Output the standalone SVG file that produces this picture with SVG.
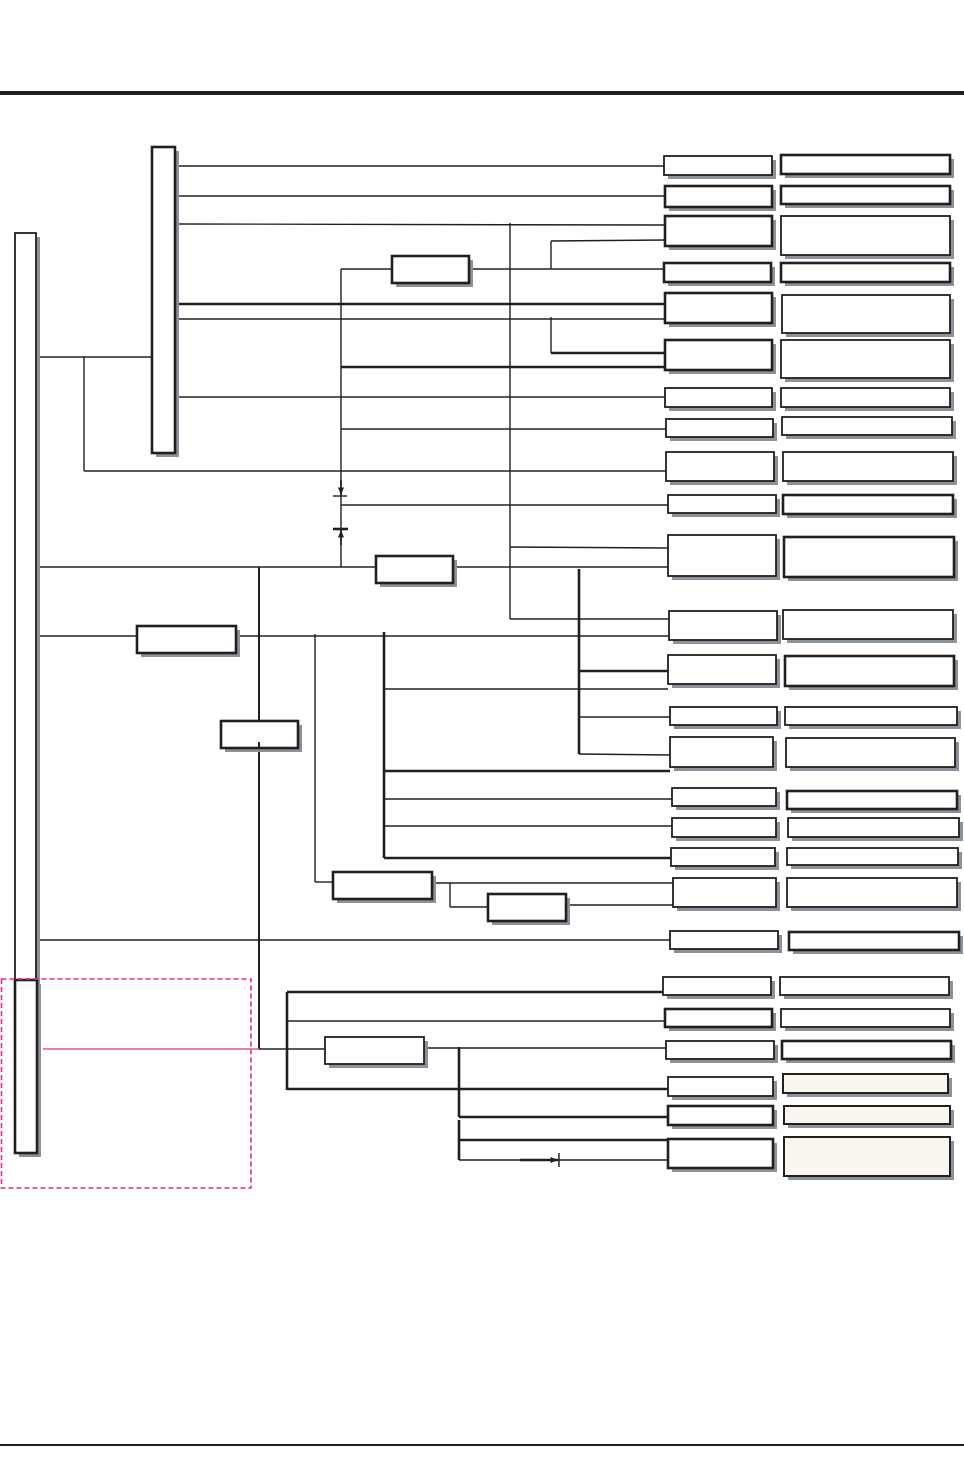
<svg xmlns="http://www.w3.org/2000/svg" width="964" height="1483" viewBox="0 0 964 1483">
<defs>
<style>
.sh{fill:#8b9299;stroke:none}
.bx{fill:#fff;stroke:#231f20;stroke-width:1.8}
.bk{fill:#fff;stroke:#231f20;stroke-width:2.6}
.cr{fill:#f9f6ef;stroke:#231f20;stroke-width:2}
.ln{stroke:#231f20;stroke-width:1.4;fill:none}
.md{stroke:#231f20;stroke-width:2;fill:none}
.tk{stroke:#231f20;stroke-width:2.6;fill:none}
</style>
<marker id="ah" viewBox="0 0 10 8" refX="10" refY="4" markerWidth="8" markerHeight="6" markerUnits="userSpaceOnUse" orient="auto"><path d="M0,0 L10,4 L0,8 Z" fill="#231f20"/></marker>
</defs>
<rect width="964" height="1483" fill="#fff"/>
<line x1="0" y1="93" x2="964" y2="93" stroke="#231f20" stroke-width="4"/>
<line x1="0" y1="1445" x2="964" y2="1445" stroke="#231f20" stroke-width="2"/>

<g id="connectors">
<line class="ln" x1="36" y1="357" x2="152" y2="357"/>
<line class="ln" x1="84" y1="357" x2="84" y2="471"/>
<line class="ln" x1="84" y1="471" x2="666" y2="471"/>
<line class="ln" x1="175" y1="166" x2="664" y2="166"/>
<line class="ln" x1="175" y1="196" x2="665" y2="196"/>
<line class="ln" x1="175" y1="224" x2="665" y2="225"/>
<line class="tk" x1="175" y1="304" x2="665" y2="304"/>
<line class="ln" x1="175" y1="319" x2="665" y2="319"/>
<line class="ln" x1="175" y1="397" x2="665" y2="397"/>
<line class="ln" x1="510" y1="223" x2="510" y2="619"/>
<line class="ln" x1="510" y1="547" x2="668" y2="548"/>
<line class="ln" x1="510" y1="619" x2="669" y2="619"/>
<line class="ln" x1="551" y1="241" x2="551" y2="269"/>
<line class="ln" x1="551" y1="241" x2="665" y2="240"/>
<line class="ln" x1="551" y1="317" x2="551" y2="353"/>
<line class="tk" x1="551" y1="353" x2="665" y2="353"/>
<line class="ln" x1="341" y1="269" x2="392" y2="269"/>
<line class="ln" x1="469" y1="269" x2="664" y2="269"/>
<line class="ln" x1="341" y1="269" x2="341" y2="567"/>
<line class="tk" x1="341" y1="367" x2="665" y2="367"/>
<line class="ln" x1="341" y1="429" x2="666" y2="429"/>
<line class="ln" x1="341" y1="505" x2="668" y2="505"/>
<line class="ln" x1="341" y1="480" x2="341" y2="495" marker-end="url(#ah)"/>
<line class="ln" x1="333" y1="496" x2="347" y2="496"/>
<line class="ln" x1="341" y1="545" x2="341" y2="530" marker-end="url(#ah)"/>
<line class="tk" x1="333" y1="529" x2="348" y2="529"/>
<line class="ln" x1="36" y1="567" x2="376" y2="567"/>
<line class="ln" x1="453" y1="567" x2="668" y2="567"/>
<line class="md" x1="259" y1="567" x2="259" y2="721"/>
<line class="ln" x1="36" y1="636" x2="137" y2="636"/>
<line class="ln" x1="236" y1="636" x2="669" y2="636"/>
<line class="ln" x1="315" y1="634" x2="315" y2="882"/>
<line class="ln" x1="315" y1="882" x2="333" y2="882"/>
<line class="tk" x1="579" y1="569" x2="579" y2="754"/>
<line class="tk" x1="579" y1="671" x2="668" y2="671"/>
<line class="ln" x1="579" y1="717" x2="670" y2="717"/>
<line class="ln" x1="579" y1="754" x2="670" y2="755"/>
<line class="tk" x1="384" y1="632" x2="384" y2="858"/>
<line class="ln" x1="384" y1="689" x2="668" y2="689"/>
<line class="tk" x1="384" y1="771" x2="670" y2="771"/>
<line class="ln" x1="384" y1="799" x2="672" y2="799"/>
<line class="ln" x1="384" y1="826" x2="672" y2="826"/>
<line class="tk" x1="384" y1="858" x2="671" y2="858"/>
<line class="ln" x1="432" y1="883" x2="673" y2="883"/>
<line class="ln" x1="450" y1="883" x2="450" y2="907"/>
<line class="ln" x1="450" y1="907" x2="488" y2="907"/>
<line class="ln" x1="566" y1="905" x2="673" y2="905"/>
<line class="ln" x1="36" y1="940" x2="670" y2="940"/>
<line class="tk" x1="287" y1="992" x2="287" y2="1090"/>
<line class="tk" x1="287" y1="992" x2="663" y2="992"/>
<line class="ln" x1="287" y1="1021" x2="665" y2="1021"/>
<line class="tk" x1="287" y1="1089" x2="668" y2="1089"/>
<line class="md" x1="259" y1="742" x2="259" y2="1049"/>
<line x1="43" y1="1049" x2="259" y2="1049" stroke="#d5579a" stroke-width="1.6"/>
<line class="ln" x1="259" y1="1049" x2="325" y2="1049"/>
<line class="ln" x1="424" y1="1048" x2="666" y2="1048"/>
<line class="tk" x1="459" y1="1047" x2="459" y2="1117"/>
<line class="tk" x1="459" y1="1120" x2="459" y2="1160"/>
<line class="tk" x1="459" y1="1117" x2="668" y2="1117"/>
<line class="tk" x1="459" y1="1140" x2="668" y2="1140"/>
<line class="ln" x1="459" y1="1160" x2="668" y2="1160"/>
<line class="tk" x1="520" y1="1160" x2="558" y2="1160" marker-end="url(#ah)"/>
<line class="ln" x1="559" y1="1153" x2="559" y2="1167"/>
</g>

<g id="bar1"><rect class="sh" x="19" y="237" width="21" height="747"/><rect class="bx" x="15" y="233" width="21" height="747"/></g>
<g id="bar1b"><rect class="sh" x="19" y="984" width="22" height="173"/><rect class="bk" x="15" y="980" width="22" height="173"/></g>
<g id="bar2"><rect class="sh" x="156" y="151" width="23" height="306"/><rect class="bk" x="152" y="147" width="23" height="306"/></g>

<g id="sA"><rect class="sh" x="396" y="260" width="77" height="27"/><rect class="bk" x="392" y="256" width="77" height="27"/></g>
<g id="sB"><rect class="sh" x="380" y="560" width="77" height="27"/><rect class="bk" x="376" y="556" width="77" height="27"/></g>
<g id="sC"><rect class="sh" x="141" y="630" width="99" height="27"/><rect class="bk" x="137" y="626" width="99" height="27"/></g>
<g id="sD"><rect class="sh" x="225" y="725" width="77" height="27"/><rect class="bk" x="221" y="721" width="77" height="27"/></g>
<g id="sE"><rect class="sh" x="337" y="876" width="99" height="27"/><rect class="bk" x="333" y="872" width="99" height="27"/></g>
<g id="sF"><rect class="sh" x="492" y="898" width="78" height="27"/><rect class="bk" x="488" y="894" width="78" height="27"/></g>
<g id="sG"><rect class="sh" x="329" y="1041" width="99" height="27"/><rect class="bx" x="325" y="1037" width="99" height="27"/></g>
<line class="md" x1="259" y1="742" x2="259" y2="748"/>

<g id="m1"><rect class="sh" x="668" y="160" width="108" height="19"/><rect class="bx" x="664" y="156" width="108" height="19"/></g>
<g id="m2"><rect class="sh" x="669" y="190" width="107" height="21"/><rect class="bk" x="665" y="186" width="107" height="21"/></g>
<g id="m3"><rect class="sh" x="669" y="220" width="107" height="30"/><rect class="bk" x="665" y="216" width="107" height="30"/></g>
<g id="m4"><rect class="sh" x="668" y="267" width="107" height="19"/><rect class="bk" x="664" y="263" width="107" height="19"/></g>
<g id="m5"><rect class="sh" x="669" y="297" width="107" height="30"/><rect class="bk" x="665" y="293" width="107" height="30"/></g>
<g id="m6"><rect class="sh" x="669" y="344" width="107" height="30"/><rect class="bk" x="665" y="340" width="107" height="30"/></g>
<g id="m7"><rect class="sh" x="669" y="392" width="107" height="19"/><rect class="bx" x="665" y="388" width="107" height="19"/></g>
<g id="m8"><rect class="sh" x="670" y="423" width="107" height="18"/><rect class="bx" x="666" y="419" width="107" height="18"/></g>
<g id="m9"><rect class="sh" x="670" y="456" width="108" height="29"/><rect class="bx" x="666" y="452" width="108" height="29"/></g>
<g id="m10"><rect class="sh" x="672" y="499" width="108" height="18"/><rect class="bx" x="668" y="495" width="108" height="18"/></g>
<g id="m11"><rect class="sh" x="672" y="539" width="108" height="41"/><rect class="bx" x="668" y="535" width="108" height="41"/></g>
<g id="m12"><rect class="sh" x="673" y="615" width="108" height="29"/><rect class="bx" x="669" y="611" width="108" height="29"/></g>
<g id="m13"><rect class="sh" x="672" y="659" width="108" height="29"/><rect class="bx" x="668" y="655" width="108" height="29"/></g>
<g id="m14"><rect class="sh" x="674" y="711" width="107" height="18"/><rect class="bx" x="670" y="707" width="107" height="18"/></g>
<g id="m15"><rect class="sh" x="674" y="741" width="103" height="30"/><rect class="bx" x="670" y="737" width="103" height="30"/></g>
<g id="m16"><rect class="sh" x="676" y="792" width="104" height="18"/><rect class="bx" x="672" y="788" width="104" height="18"/></g>
<g id="m17"><rect class="sh" x="676" y="822" width="104" height="19"/><rect class="bx" x="672" y="818" width="104" height="19"/></g>
<g id="m18"><rect class="sh" x="675" y="852" width="104" height="18"/><rect class="bx" x="671" y="848" width="104" height="18"/></g>
<g id="m19"><rect class="sh" x="677" y="882" width="103" height="29"/><rect class="bx" x="673" y="878" width="103" height="29"/></g>
<g id="m20"><rect class="sh" x="674" y="935" width="108" height="18"/><rect class="bx" x="670" y="931" width="108" height="18"/></g>
<g id="m21"><rect class="sh" x="667" y="981" width="108" height="18"/><rect class="bx" x="663" y="977" width="108" height="18"/></g>
<g id="m22"><rect class="sh" x="669" y="1013" width="107" height="18"/><rect class="bk" x="665" y="1009" width="107" height="18"/></g>
<g id="m23"><rect class="sh" x="670" y="1045" width="108" height="18"/><rect class="bx" x="666" y="1041" width="108" height="18"/></g>
<g id="m24"><rect class="sh" x="672" y="1081" width="105" height="19"/><rect class="bx" x="668" y="1077" width="105" height="19"/></g>
<g id="m25"><rect class="sh" x="672" y="1110" width="105" height="19"/><rect class="bk" x="668" y="1106" width="105" height="19"/></g>
<g id="m26"><rect class="sh" x="672" y="1143" width="105" height="29"/><rect class="bk" x="668" y="1139" width="105" height="29"/></g>

<g id="r1"><rect class="sh" x="785" y="159" width="169" height="19"/><rect class="bk" x="781" y="155" width="169" height="19"/></g>
<g id="r2"><rect class="sh" x="785" y="190" width="169" height="18"/><rect class="bk" x="781" y="186" width="169" height="18"/></g>
<g id="r3"><rect class="sh" x="785" y="220" width="169" height="39"/><rect class="bx" x="781" y="216" width="169" height="39"/></g>
<g id="r4"><rect class="sh" x="785" y="267" width="169" height="19"/><rect class="bk" x="781" y="263" width="169" height="19"/></g>
<g id="r5"><rect class="sh" x="786" y="299" width="168" height="38"/><rect class="bx" x="782" y="295" width="168" height="38"/></g>
<g id="r6"><rect class="sh" x="785" y="344" width="169" height="38"/><rect class="bx" x="781" y="340" width="169" height="38"/></g>
<g id="r7"><rect class="sh" x="785" y="392" width="169" height="19"/><rect class="bx" x="781" y="388" width="169" height="19"/></g>
<g id="r8"><rect class="sh" x="786" y="421" width="170" height="18"/><rect class="bx" x="782" y="417" width="170" height="18"/></g>
<g id="r9"><rect class="sh" x="787" y="456" width="170" height="29"/><rect class="bx" x="783" y="452" width="170" height="29"/></g>
<g id="r10"><rect class="sh" x="787" y="499" width="170" height="19"/><rect class="bk" x="783" y="495" width="170" height="19"/></g>
<g id="r11"><rect class="sh" x="788" y="541" width="170" height="40"/><rect class="bk" x="784" y="537" width="170" height="40"/></g>
<g id="r12"><rect class="sh" x="787" y="614" width="170" height="29"/><rect class="bx" x="783" y="610" width="170" height="29"/></g>
<g id="r13"><rect class="sh" x="789" y="660" width="169" height="30"/><rect class="bk" x="785" y="656" width="169" height="30"/></g>
<g id="r14"><rect class="sh" x="789" y="711" width="172" height="18"/><rect class="bx" x="785" y="707" width="172" height="18"/></g>
<g id="r15"><rect class="sh" x="790" y="742" width="169" height="29"/><rect class="bx" x="786" y="738" width="169" height="29"/></g>
<g id="r16"><rect class="sh" x="791" y="795" width="170" height="18"/><rect class="bk" x="787" y="791" width="170" height="18"/></g>
<g id="r17"><rect class="sh" x="792" y="822" width="171" height="19"/><rect class="bx" x="788" y="818" width="171" height="19"/></g>
<g id="r18"><rect class="sh" x="791" y="852" width="171" height="17"/><rect class="bx" x="787" y="848" width="171" height="17"/></g>
<g id="r19"><rect class="sh" x="791" y="882" width="170" height="29"/><rect class="bx" x="787" y="878" width="170" height="29"/></g>
<g id="r20"><rect class="sh" x="793" y="936" width="170" height="18"/><rect class="bk" x="789" y="932" width="170" height="18"/></g>
<g id="r21"><rect class="sh" x="784" y="981" width="169" height="18"/><rect class="bx" x="780" y="977" width="169" height="18"/></g>
<g id="r22"><rect class="sh" x="785" y="1013" width="169" height="18"/><rect class="bx" x="781" y="1009" width="169" height="18"/></g>
<g id="r23"><rect class="sh" x="786" y="1045" width="169" height="18"/><rect class="bk" x="782" y="1041" width="169" height="18"/></g>
<g id="r24"><rect class="sh" x="787" y="1078" width="165" height="19"/><rect class="cr" x="783" y="1074" width="165" height="19"/></g>
<g id="r25"><rect class="sh" x="788" y="1110" width="166" height="18"/><rect class="cr" x="784" y="1106" width="166" height="18"/></g>
<g id="r26"><rect class="sh" x="788" y="1141" width="166" height="39"/><rect class="cr" x="784" y="1137" width="166" height="39"/></g>

<rect id="highlight" x="1.5" y="979" width="249.5" height="209" fill="none" stroke="#ec2a8e" stroke-width="1.6" stroke-dasharray="5,3"/>
</svg>
